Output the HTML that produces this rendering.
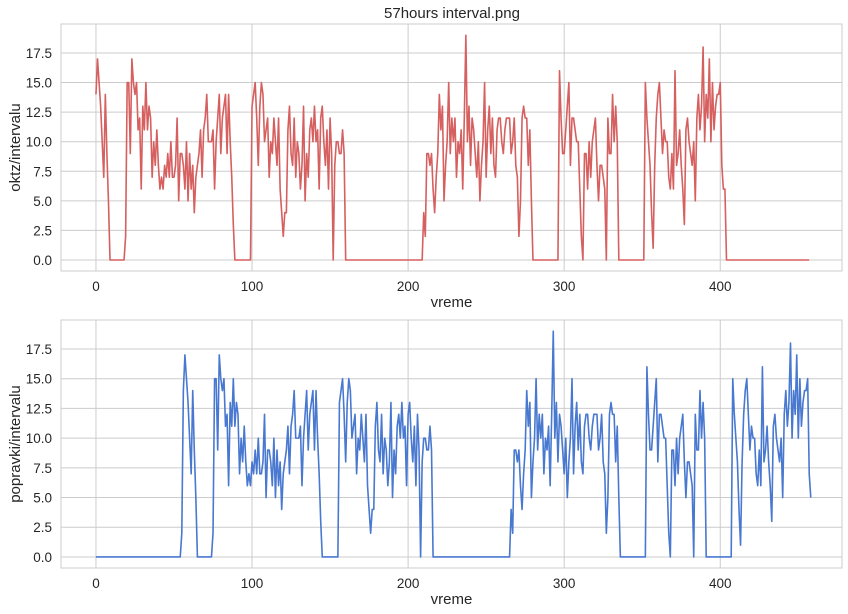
<!DOCTYPE html>
<html><head><meta charset="utf-8"><style>
body{margin:0;background:#fff;}
svg{display:block;font-family:"Liberation Sans","DejaVu Sans",sans-serif;}
</style></head><body>
<svg id="chart" width="848" height="614"></svg>
<script>
const topValues=[
14,17,15,13,10,7,14,9,5,0,
0,0,0,0,0,0,0,0,0,2,
15,15,9,17,15,14,15,11,12,6,
13,11,15,11,13,12,7,10,8,11,
8,6,7,6,8,7,9,7,10,7,
7,8,12,5,9,9,8,6,10,5,
9,6,8,4,7,8,9,11,7,11,
12,14,10,10,10,11,6,10,12,14,
9,12,13,14,9,14,10,7,3,0,
0,0,0,0,0,0,0,0,0,0,
13,14,15,12,8,13,15,14,10,11,
12,7,10,9,12,10,8,12,6,4,
2,4,4,11,13,9,8,12,7,10,
9,6,8,13,5,9,7,11,12,10,
13,10,11,6,12,13,10,8,11,6,
12,9,0,8,10,10,9,9,11,9,
0,0,0,0,0,0,0,0,0,0,
0,0,0,0,0,0,0,0,0,0,
0,0,0,0,0,0,0,0,0,0,
0,0,0,0,0,0,0,0,0,0,
0,0,0,0,0,0,0,0,0,0,
4,2,9,9,8,9,6,4,7,9,
14,11,13,5,8,10,15,9,12,10,
12,7,10,9,11,6,12,19,10,13,
8,12,11,9,7,10,5,8,10,15,
7,11,13,9,12,8,7,11,12,12,
10,9,11,12,12,12,9,10,12,8,
7,2,5,12,13,12,12,8,11,5,
0,0,0,0,0,0,0,0,0,0,
0,0,0,0,0,0,0,16,12,9,
9,11,13,15,8,12,12,11,10,10,
6,2,0,9,9,6,10,7,10,11,
12,8,5,8,8,7,6,0,12,9,
9,14,10,13,10,0,0,0,0,0,
0,0,0,0,0,0,0,0,0,0,
0,0,15,12,10,8,4,1,8,12,
14,15,12,9,11,10,10,7,6,9,
6,16,8,9,11,8,6,3,11,12,
10,9,8,10,5,12,14,11,13,18,
10,14,12,17,10,15,11,13,14,14,
15,8,6,6,0,0,0,0,0,0,
0,0,0,0,0,0,0,0,0,0,
0,0,0,0,0,0,0,0,0,0,
0,0,0,0,0,0,0,0,0,0,
0,0,0,0,0,0,0,0,0,0,
0,0,0,0,0,0,0,0];
const bottomValues=[
0,0,0,0,0,0,0,0,0,0,
0,0,0,0,0,0,0,0,0,0,
0,0,0,0,0,0,0,0,0,0,
0,0,0,0,0,0,0,0,0,0,
0,0,0,0,0,0,0,0,0,0,
0,0,0,0,0,2,
14,17,15,13,10,7,14,9,5,0,
0,0,0,0,0,0,0,0,0,2,
15,15,9,17,15,14,15,11,12,6,
13,11,15,11,13,12,7,10,8,11,
8,6,7,6,8,7,9,7,10,7,
7,8,12,5,9,9,8,6,10,5,
9,6,8,4,7,8,9,11,7,11,
12,14,10,10,10,11,6,10,12,14,
9,12,13,14,9,14,10,7,3,0,
0,0,0,0,0,0,0,0,0,0,
13,14,15,12,8,13,15,14,10,11,
12,7,10,9,12,10,8,12,6,4,
2,4,4,11,13,9,8,12,7,10,
9,6,8,13,5,9,7,11,12,10,
13,10,11,6,12,13,10,8,11,6,
12,9,0,8,10,10,9,9,11,9,
0,0,0,0,0,0,0,0,0,0,
0,0,0,0,0,0,0,0,0,0,
0,0,0,0,0,0,0,0,0,0,
0,0,0,0,0,0,0,0,0,0,
0,0,0,0,0,0,0,0,0,0,
4,2,9,9,8,9,6,4,7,9,
14,11,13,5,8,10,15,9,12,10,
12,7,10,9,11,6,12,19,10,13,
8,12,11,9,7,10,5,8,10,15,
7,11,13,9,12,8,7,11,12,12,
10,9,11,12,12,12,9,10,12,8,
7,2,5,12,13,12,12,8,11,5,
0,0,0,0,0,0,0,0,0,0,
0,0,0,0,0,0,0,16,12,9,
9,11,13,15,8,12,12,11,10,10,
6,2,0,9,9,6,10,7,10,11,
12,8,5,8,8,7,6,0,12,9,
9,14,10,13,10,0,0,0,0,0,
0,0,0,0,0,0,0,0,0,0,
0,0,15,12,10,8,4,1,8,12,
14,15,12,9,11,10,10,7,6,9,
6,16,8,9,11,8,6,3,11,12,
10,9,8,10,5,12,14,11,13,18,
10,14,12,17,10,15,11,13,14,14,
15,7,5];
const xTicks=[0,100,200,300,400];
const yTicks=[0,2.5,5,7.5,10,12.5,15,17.5];
const yTickLabels=["0.0","2.5","5.0","7.5","10.0","12.5","15.0","17.5"];

const NS="http://www.w3.org/2000/svg";
const svg=document.getElementById('chart');
function mk(tag,attrs,parent){const e=document.createElementNS(NS,tag);for(const k in attrs)e.setAttribute(k,attrs[k]);(parent||svg).appendChild(e);return e;}

function panel(cfg){
  const {left,right,top,bottom,xmin,xmax,ymin,ymax,values,color,ylabel,prefix}=cfg;
  const xs=v=>left+(v-xmin)/(xmax-xmin)*(right-left);
  const ys=v=>bottom-(v-ymin)/(ymax-ymin)*(bottom-top);
  const g=mk('g',{});
  
  
  yTicks.forEach((t,i)=>{
    const l=mk('line',{x1:left,x2:right,y1:ys(t),y2:ys(t),stroke:'#cccccc','stroke-width':1},g);
    
    
    const tx=mk('text',{x:left-9,y:ys(t)+5,'text-anchor':'end','font-size':13.5,fill:'#262626'},g);
    tx.textContent=yTickLabels[i];
    
    
  });
  xTicks.forEach(t=>{
    const l=mk('line',{x1:xs(t),x2:xs(t),y1:top,y2:bottom,stroke:'#cccccc','stroke-width':1},g);
    
    
    const tx=mk('text',{x:xs(t),y:bottom+20,'text-anchor':'middle','font-size':13.5,fill:'#262626'},g);
    tx.textContent=String(t);
    
    
  });
  const fr=mk('rect',{x:left,y:top,width:right-left,height:bottom-top,fill:'none',stroke:'#cccccc','stroke-width':1},g);
  
  
  const d=values.map((v,i)=>(i?'L':'M')+xs(i).toFixed(2)+','+ys(v).toFixed(2)).join('');
  const p=mk('path',{d:d,fill:'none',stroke:color,'stroke-width':1.6,'stroke-linejoin':'round'},g);
  
  
  const xl=mk('text',{x:(left+right)/2,y:bottom+36,'text-anchor':'middle','font-size':15,fill:'#262626'},g);
  xl.textContent='vreme';
  
  
  const cy=(top+bottom)/2;
  const yl=mk('text',{x:20,y:cy,'text-anchor':'middle','font-size':15,fill:'#262626',transform:'rotate(-90 20 '+cy+')'},g);
  yl.textContent=ylabel;
  
  
}
const title=mk('text',{x:452,y:18,'text-anchor':'middle','font-size':15,fill:'#262626'});
title.textContent='57hours interval.png';


panel({left:61,right:842,top:24,bottom:271,xmin:-22.4,xmax:478,ymin:-0.93,ymax:19.95,values:topValues,color:'#d65f5f',ylabel:'oktz/intervalu',prefix:'top'});
panel({left:61,right:842,top:320,bottom:568,xmin:-22.4,xmax:478,ymin:-0.93,ymax:19.94,values:bottomValues,color:'#4878d0',ylabel:'popravki/intervalu',prefix:'bottom'});
</script>
</body></html>
